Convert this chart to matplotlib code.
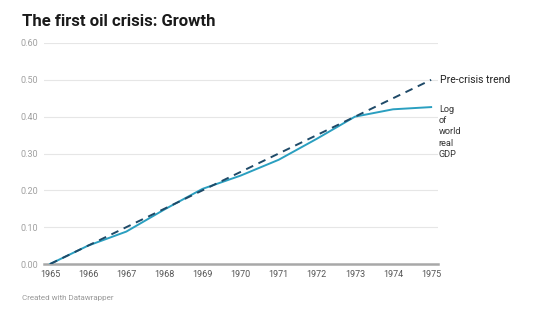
import matplotlib.pyplot as plt

years = [1965, 1966, 1967, 1968, 1969, 1970, 1971, 1972, 1973, 1974, 1975]
log_gdp = [0.0, 0.05, 0.088, 0.148, 0.204, 0.24, 0.283, 0.34, 0.40, 0.42, 0.426]
trend = [0.0, 0.05, 0.10, 0.15, 0.20, 0.25, 0.30, 0.35, 0.40, 0.45, 0.50]
yticks = [0.0, 0.1, 0.2, 0.3, 0.4, 0.5, 0.6]

plt.rcParams['font.family'] = ['Roboto', 'DejaVu Sans']

fig = plt.figure(figsize=(5.44, 3.25), dpi=100)
ax = fig.add_axes([44 / 544, 61 / 325, 394 / 544, 221 / 325])

ax.plot(years, log_gdp, color="#2a9fc0", linewidth=1.4, zorder=3)
ax.plot(years, trend, color="#1f4a68", linewidth=1.4, linestyle=(0, (4, 3)), zorder=4)

ax.set_xlim(1964.84, 1975.18)
ax.set_ylim(0, 0.6)
ax.set_yticks(yticks)
ax.set_yticklabels([f"{v:.2f}" for v in yticks])
ax.set_xticks(years)
ax.grid(axis="y", color="#e6e6e6", linewidth=0.8)
ax.set_axisbelow(True)
for s in ["top", "right", "left"]:
    ax.spines[s].set_visible(False)
ax.spines["bottom"].set_color("#a8a8a8")
ax.spines["bottom"].set_linewidth(1.8)
ax.tick_params(axis="both", length=0, labelsize=6.5)
ax.tick_params(axis="y", colors="#a0a0a0", pad=4)
ax.tick_params(axis="x", colors="#555555", pad=4)

ax.text(1975.22, 0.50, "Pre-crisis trend", fontsize=7.5, color="#222222",
        va="center", ha="left", clip_on=False)
ax.text(1975.2, 0.433, "Log\nof\nworld\nreal\nGDP", fontsize=6.6, color="#333333",
        va="top", ha="left", linespacing=1.35, clip_on=False)

fig.text(22 / 544, 1 - 21 / 325, "The first oil crisis: Growth", fontsize=12,
         fontweight="bold", color="#1a1a1a", va="center", ha="left")
fig.text(22 / 544, 1 - 298 / 325, "Created with Datawrapper", fontsize=5.8,
         color="#999999", va="center", ha="left")

fig.savefig("out.png", dpi=100, facecolor="white")
